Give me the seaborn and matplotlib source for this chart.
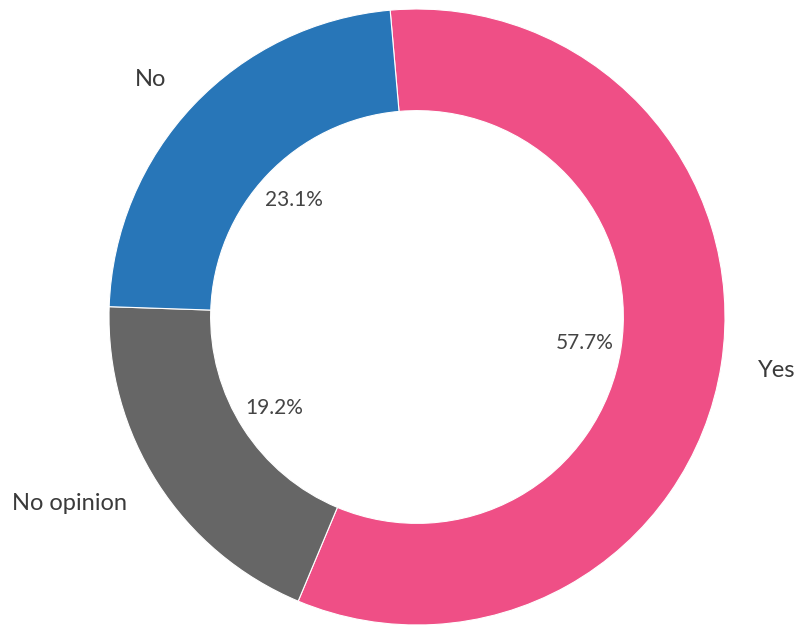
import matplotlib
matplotlib.use("Agg")
import matplotlib.pyplot as plt
import seaborn as sns

# Данные
labels = ["Yes", "No opinion", "No"]
counts = [15, 5, 6]
colors = ["#EF4F86", "#666666", "#2876B8"]

sns.set_theme(style="white")
plt.rcParams["font.family"] = ["Lato", "DejaVu Sans"]

W, H = 795, 627
cx, cy, R = 417, 317, 308

fig = plt.figure(figsize=(W / 100, H / 100), dpi=100)
ax = fig.add_axes([0, 0, 1, 1])

wedges, texts, autotexts = ax.pie(
    counts,
    labels=labels,
    colors=colors,
    startangle=95,
    counterclock=False,
    autopct="%1.1f%%",
    pctdistance=0.55,
    labeldistance=1.12,
    wedgeprops=dict(width=0.33, edgecolor="white", linewidth=0.8),
)
for t in texts:
    t.set_fontsize(17)
    t.set_color("#3a3a3a")
for t in autotexts:
    t.set_fontsize(15)
    t.set_color("#444444")

ax.set_aspect("auto")
ax.set_xlim(-cx / R, (W - cx) / R)
ax.set_ylim(-(H - cy) / R, cy / R)
ax.axis("off")

fig.savefig("out.png", dpi=100)
